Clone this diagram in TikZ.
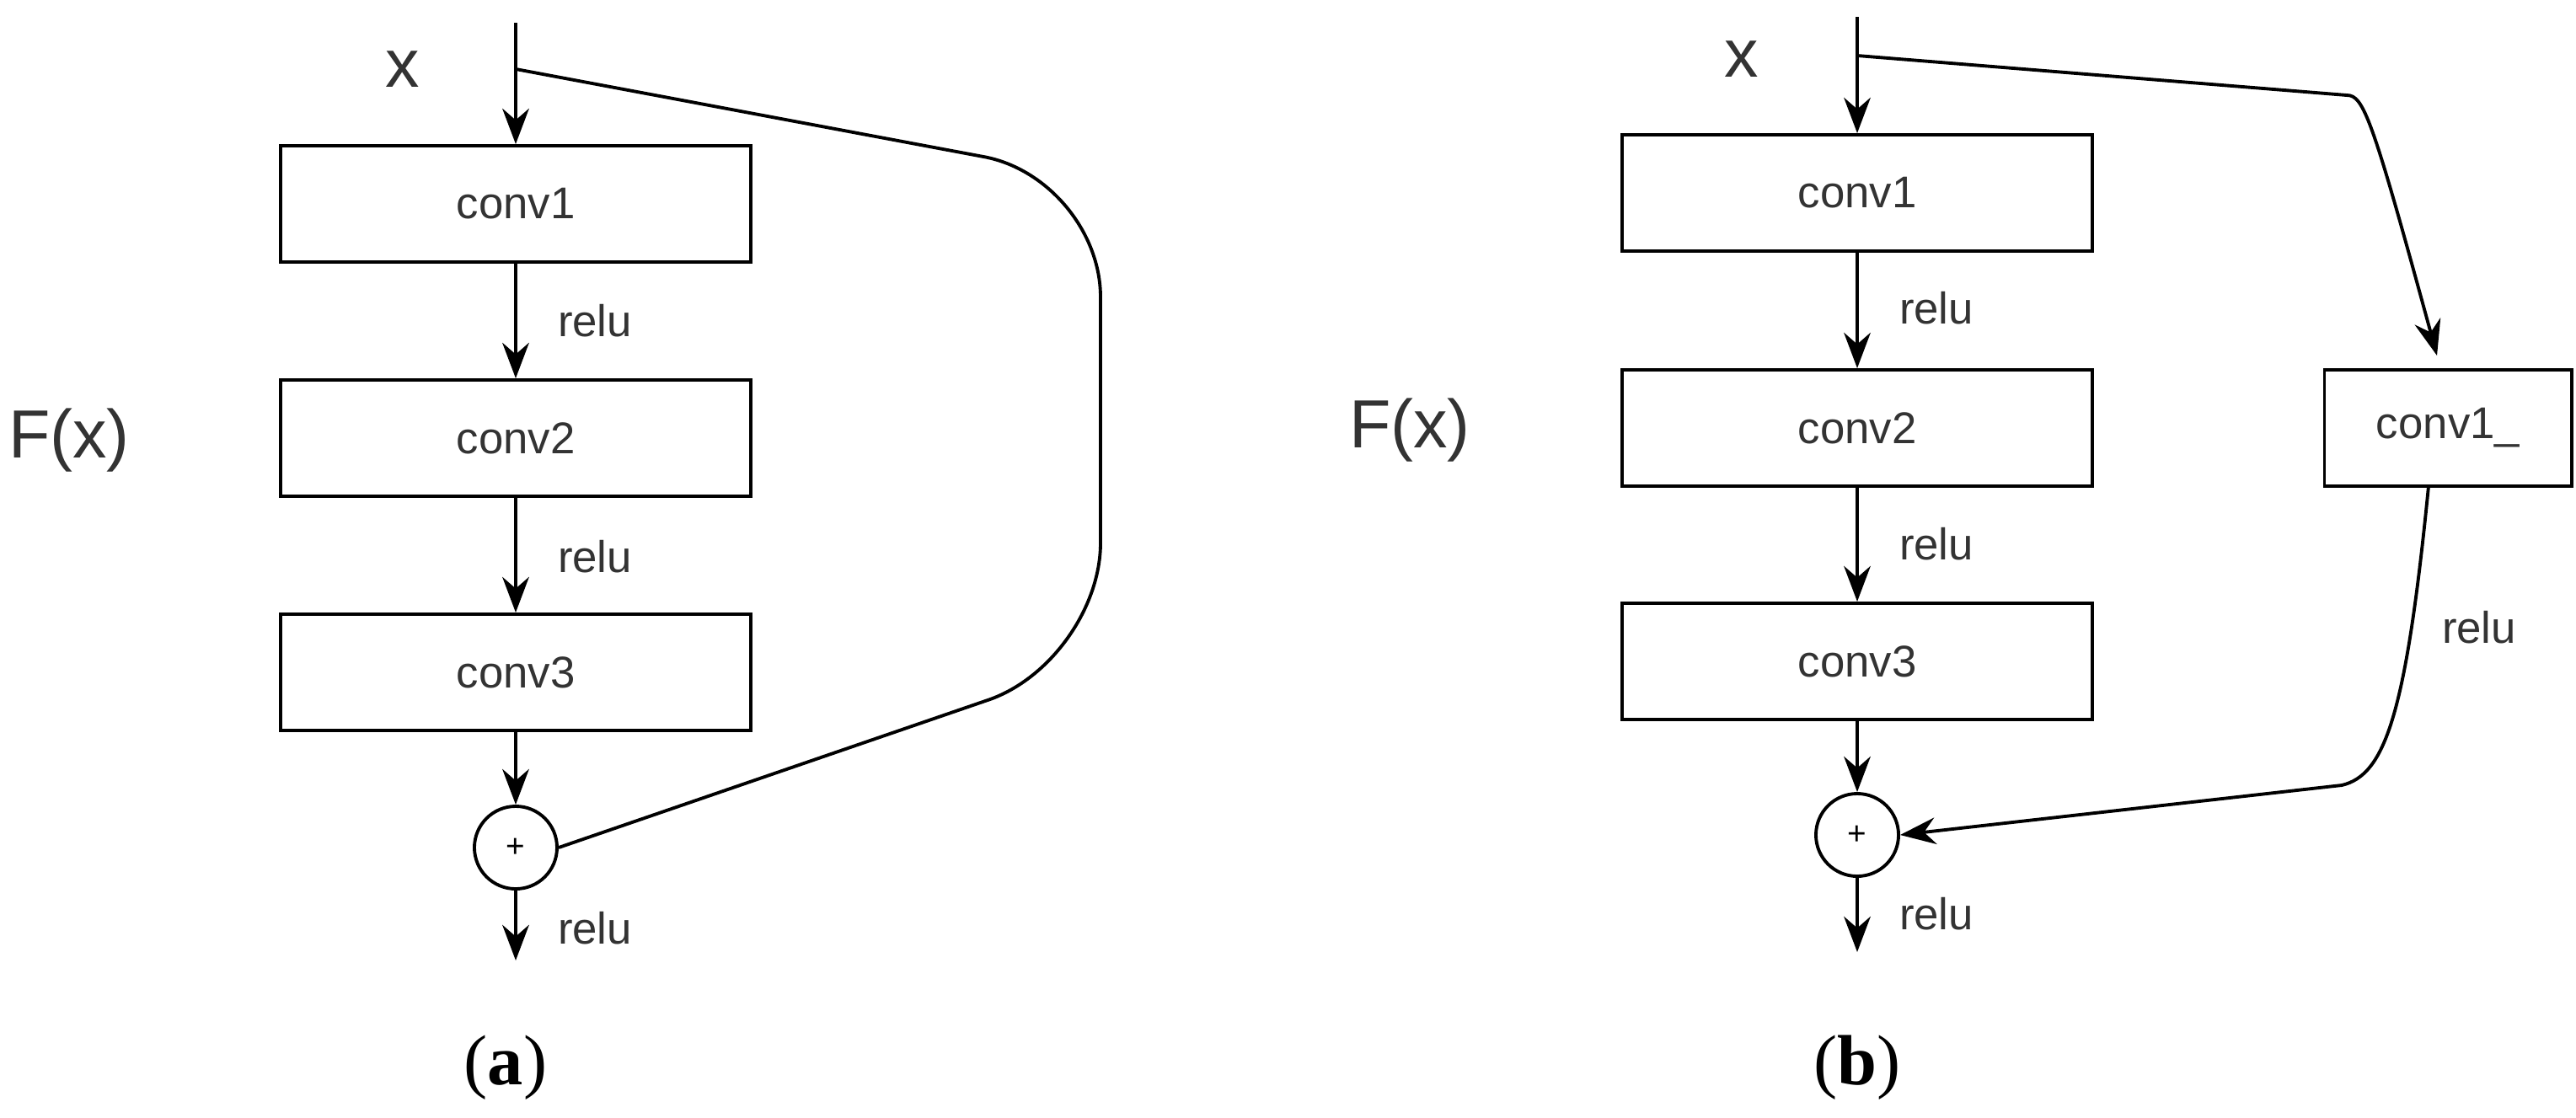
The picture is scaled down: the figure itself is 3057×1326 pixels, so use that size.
\documentclass[tikz,border=0pt]{standalone}
\usepackage{fontspec}
\setmainfont{Liberation Sans}
\newfontfamily\capfont{Liberation Serif}
\usetikzlibrary{arrows.meta}
\begin{document}
\begin{tikzpicture}[x=0.01cm,y=-0.01cm,line width=1.1pt,
  blk/.style={draw,minimum width=5.58cm,minimum height=1.38cm,inner sep=0,font=\fontsize{15}{18}\selectfont,text=black!80},
  sblk/.style={draw,minimum width=2.93cm,minimum height=1.38cm,inner sep=0,font=\fontsize{15}{18}\selectfont,text=black!80},
  add/.style={draw,circle,minimum size=0.98cm,inner sep=0,font=\fontsize{11}{12}\selectfont},
  lbl/.style={font=\fontsize{15}{18}\selectfont,text=black!80},
  big/.style={font=\fontsize{23}{26}\selectfont,text=black!80},
  captxt/.style={font=\capfont\fontsize{24}{28}\selectfont},
  arr/.style={-{Stealth[length=12pt,width=9pt]}}]
\useasboundingbox (0,0) rectangle (3057,1326);
% (a)
\node[blk] (a1) at (612,242) {conv1};
\node[blk] (a2) at (612,520) {conv2};
\node[blk] (a3) at (612,798) {conv3};
\node[add] (ap) at (612,1006) {+};
\coordinate (atop) at (612,27);
\coordinate (asp) at (612,82);
\coordinate (aout) at (612,1140);
\node[big] (ax) at (478,82) {x};
\node[big] (aF) at (82,523) {F(x)};
\draw[arr] (atop) -- (a1.north);
\draw[arr] (a1.south) -- (a2.north);
\draw[arr] (a2.south) -- (a3.north);
\draw[arr] (a3.south) -- (ap.north);
\draw[arr] (ap.south) -- (aout);
\node[lbl] (ar1) at (706,381) {relu};
\node[lbl] (ar2) at (706,661) {relu};
\node[lbl] (ar3) at (706,1102) {relu};
\draw[rounded corners=40] (asp) -- (1306,212) -- (1306,785) -- (ap.east);
\node[captxt] (ca) at (600,1267) {(\textbf{a})};
% (b)
\node[blk] (b1) at (2204,229) {conv1};
\node[blk] (b2) at (2204,508) {conv2};
\node[blk] (b3) at (2204,785) {conv3};
\node[sblk] (b4) at (2905,508) {conv1\_};
\node[add] (bp) at (2204,991) {+};
\coordinate (btop) at (2204,20);
\coordinate (bsp) at (2204,66);
\coordinate (bout) at (2204,1130);
\coordinate (bk) at (2785,113);
\coordinate (bk2) at (2779,932);
\node[big] (bx) at (2067,70) {x};
\node[big] (bF) at (1673,511) {F(x)};
\draw[arr] (btop) -- (b1.north);
\draw[arr] (b1.south) -- (b2.north);
\draw[arr] (b2.south) -- (b3.north);
\draw[arr] (b3.south) -- (bp.north);
\draw[arr] (bp.south) -- (bout);
\node[lbl] (br1) at (2298,366) {relu};
\node[lbl] (br2) at (2298,646) {relu};
\node[lbl] (br3) at (2298,1085) {relu};
\node[lbl] (br4) at (2942,745) {relu};
\draw[arr] (bsp) -- (bk) .. controls (2805,113) and (2815,140) .. (2892,422);
\draw[arr] (2882,577) .. controls (2855,850) and (2830,920) .. (bk2) -- (bp.east);
\node[captxt] (cb) at (2204,1267) {(\textbf{b})};
\end{tikzpicture}
\end{document}
